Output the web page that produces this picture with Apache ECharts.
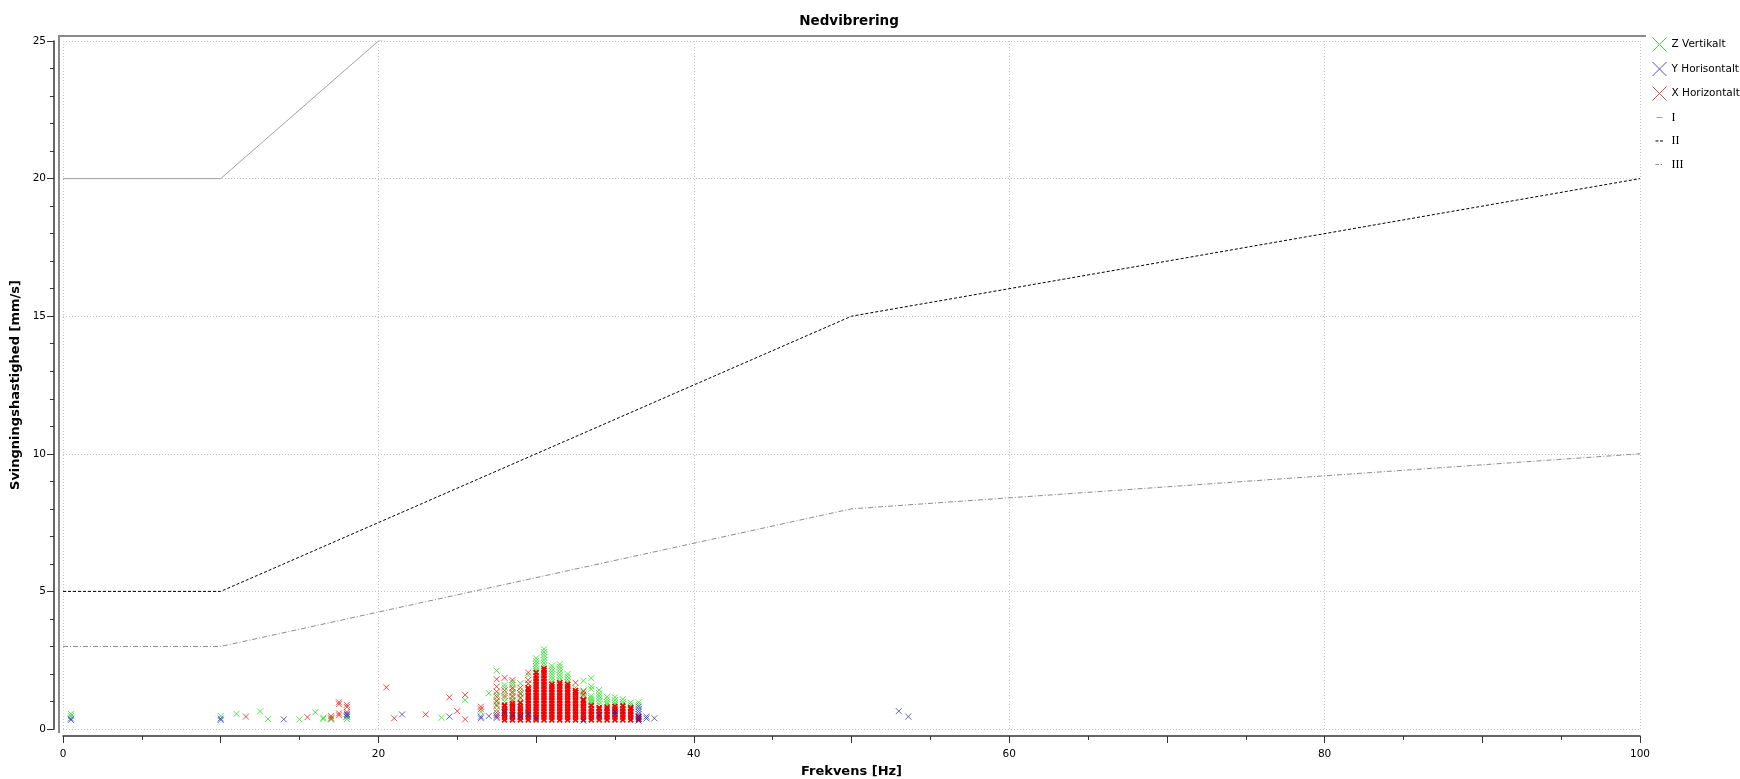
<!DOCTYPE html>
<html>
<head>
<meta charset="utf-8">
<title>Nedvibrering</title>
<script src="https://cdn.jsdelivr.net/npm/echarts@6/dist/echarts.min.js"></script>
<style>
  html, body { margin: 0; padding: 0; background: #fff; }
  #chart { width: 1740px; height: 779px; }
</style>
</head>
<body>
<div id="chart"></div>
<script>
// ---- Measurements: [frequency Hz, velocity mm/s] ----
const zVertikalt = [
  [0.5, 0.55], [0.5, 0.47], [10.0, 0.47], [11.0, 0.55], [12.5, 0.64], [13.0, 0.36],
  [15.0, 0.35], [16.0, 0.61], [16.5, 0.41], [16.5, 0.37], [17.0, 0.34], [17.0, 0.41],
  [18.0, 0.36], [18.0, 0.45], [24.0, 0.41], [25.5, 1.05], [26.5, 0.63], [27.0, 1.30],
  [27.5, 2.12], [27.5, 1.25], [27.5, 1.05], [27.5, 0.90], [27.5, 0.70],
  [28.0, 1.60], [28.0, 1.50], [28.0, 1.30], [28.0, 1.12], [28.0, 1.00],
  [28.5, 1.70], [28.5, 1.60], [28.5, 1.45], [28.5, 1.30], [28.5, 1.15], [28.5, 1.00],
  [29.0, 1.66], [29.0, 1.40], [29.0, 1.25], [29.0, 1.10],
  [29.5, 1.95], [29.5, 1.65],
  [30.0, 2.57], [30.0, 2.47], [30.0, 2.37], [30.0, 2.27], [30.0, 2.17], [30.0, 2.10],
  [30.5, 2.90], [30.5, 2.80], [30.5, 2.70], [30.5, 2.60], [30.5, 2.50], [30.5, 2.40], [30.5, 2.30],
  [31.0, 2.30], [31.0, 2.20], [31.0, 2.10], [31.0, 2.00], [31.0, 1.90], [31.0, 1.80], [31.0, 1.70],
  [31.5, 2.36], [31.5, 2.26], [31.5, 2.16], [31.5, 2.06], [31.5, 1.96], [31.5, 1.86], [31.5, 1.76],
  [32.0, 2.00], [32.0, 1.90], [32.0, 1.80], [32.0, 1.70],
  [32.5, 1.50],
  [33.0, 1.75], [33.0, 1.40], [33.0, 1.30], [33.0, 1.20],
  [33.5, 1.85], [33.5, 1.55], [33.5, 1.45], [33.5, 1.20], [33.5, 1.12], [33.5, 1.05], [33.5, 0.98], [33.5, 0.92],
  [34.0, 1.42], [34.0, 1.30], [34.0, 1.20], [34.0, 1.10], [34.0, 1.00], [34.0, 0.90],
  [34.5, 1.17], [34.5, 1.07], [34.5, 0.97], [34.5, 0.90],
  [35.0, 1.15], [35.0, 1.05], [35.0, 0.95], [35.0, 0.88],
  [35.5, 1.08], [35.5, 0.98], [35.5, 0.90],
  [36.0, 0.96], [36.0, 0.88],
  [36.5, 0.97], [36.5, 0.88]
];

const yHorisontalt = [
  [0.5, 0.38], [0.5, 0.33], [10.0, 0.33], [10.0, 0.38], [14.0, 0.35],
  [18.0, 0.55], [18.0, 0.51], [18.0, 0.45], [21.5, 0.53], [24.5, 0.45],
  [26.5, 0.45], [26.5, 0.39], [27.0, 0.47], [27.5, 0.51], [27.5, 0.40],
  [28.0, 0.60], [28.5, 0.50], [29.0, 0.45], [29.5, 0.55], [30.0, 0.40],
  [33.0, 0.30], [34.0, 0.50], [35.0, 0.63], [35.0, 0.55],
  [36.5, 0.81], [36.5, 0.72], [36.5, 0.63], [36.5, 0.54], [36.5, 0.45], [36.5, 0.36], [36.5, 0.30],
  [37.0, 0.45], [37.0, 0.38], [37.5, 0.39], [53.0, 0.65], [53.6, 0.45]
];

// Isolated X readings
const xHorizontalPoints = [
  [11.6, 0.45], [15.5, 0.43], [17.0, 0.47], [17.0, 0.38], [17.5, 0.97], [17.5, 0.90],
  [17.5, 0.57], [17.5, 0.50], [18.0, 0.88], [18.0, 0.80], [18.0, 0.62], [20.5, 1.51],
  [21.0, 0.39], [23.0, 0.53], [24.5, 1.15], [25.0, 0.65], [25.5, 1.24], [25.5, 0.35],
  [26.5, 0.81], [26.5, 0.72],
  [27.5, 1.81], [27.5, 1.54], [27.5, 1.36], [27.5, 1.17], [27.5, 1.00], [27.5, 0.84], [27.5, 0.60], [27.5, 0.45],
  [28.0, 1.86], [28.0, 1.40], [28.0, 1.20],
  [28.5, 1.78], [28.5, 1.50], [28.5, 1.35], [28.5, 1.20], [28.5, 1.05],
  [29.0, 1.50], [29.0, 1.30], [29.0, 1.15],
  [29.5, 2.05], [29.5, 1.78], [29.5, 1.65],
  [32.5, 1.68], [33.0, 1.36], [33.0, 1.25]
];

// Dense X readings, one list per frequency bin
const xColumnHz = [28.0, 28.5, 29.0, 29.5, 30.0, 30.5, 31.0, 31.5, 32.0, 32.5, 33.0, 33.5, 34.0, 34.5, 35.0, 35.5, 36.0, 36.5];
const xColumnValues = [
  [0.33, 0.43, 0.53, 0.63, 0.73, 0.83, 0.87],
  [0.33, 0.43, 0.53, 0.63, 0.73, 0.83, 0.92],
  [0.33, 0.43, 0.53, 0.63, 0.73, 0.83, 0.95],
  [0.33, 0.43, 0.53, 0.63, 0.73, 0.83, 0.93, 1.03, 1.13, 1.23, 1.33, 1.43, 1.50],
  [0.33, 0.43, 0.53, 0.63, 0.73, 0.83, 0.93, 1.03, 1.13, 1.23, 1.33, 1.43, 1.53, 1.63, 1.73, 1.83, 1.93, 2.05],
  [0.33, 0.43, 0.53, 0.63, 0.73, 0.83, 0.93, 1.03, 1.13, 1.23, 1.33, 1.43, 1.53, 1.63, 1.73, 1.83, 1.93, 2.03, 2.13, 2.20],
  [0.33, 0.43, 0.53, 0.63, 0.73, 0.83, 0.93, 1.03, 1.13, 1.23, 1.33, 1.43, 1.53, 1.62],
  [0.33, 0.43, 0.53, 0.63, 0.73, 0.83, 0.93, 1.03, 1.13, 1.23, 1.33, 1.43, 1.53, 1.63, 1.68],
  [0.33, 0.43, 0.53, 0.63, 0.73, 0.83, 0.93, 1.03, 1.13, 1.23, 1.33, 1.43, 1.53, 1.62],
  [0.33, 0.43, 0.53, 0.63, 0.73, 0.83, 0.93, 1.03, 1.13, 1.23, 1.33, 1.40],
  [0.33, 0.43, 0.53, 0.63, 0.73, 0.83, 0.93, 1.03, 1.07],
  [0.33, 0.43, 0.53, 0.63, 0.73, 0.85],
  [0.33, 0.43, 0.53, 0.63, 0.73, 0.78],
  [0.33, 0.43, 0.53, 0.63, 0.73, 0.80],
  [0.33, 0.43, 0.53, 0.63, 0.73, 0.82],
  [0.33, 0.43, 0.53, 0.63, 0.73, 0.84],
  [0.33, 0.43, 0.53, 0.63, 0.73, 0.78],
  [0.33, 0.40, 0.45]
];

// ---- Limit curves ----
const limitI   = [[0, 20], [10, 20], [20, 25], [50, 30], [100, 40]];
const limitII  = [[0, 5], [10, 5], [50, 15], [100, 20]];
const limitIII = [[0, 3], [10, 3], [50, 8], [100, 10]];

// ---- Axis settings ----
const xMin = 0, xMax = 100;
const yMin = 0, yMax = 25;

const xColumns = [];
xColumnHz.forEach((hz, i) => xColumnValues[i].forEach(v => xColumns.push([hz, v])));

const FONT = "'DejaVu Sans', 'Liberation Sans', sans-serif";
const SERIF = "'Liberation Serif', 'DejaVu Serif', serif";
const CROSS = 'path://M0,0L10,10M10,0L0,10';
const ICON_I   = 'path://M0,0h0.01v0.01h-0.01zM14,14h0.01v0.01h-0.01zM4,6.5h6v1h-6z';
const ICON_II  = 'path://M0,0h0.01v0.01h-0.01zM14,14h0.01v0.01h-0.01zM3,6.5h3v1h-3zM7.5,6.5h3v1h-3z';
const ICON_III = 'path://M0,0h0.01v0.01h-0.01zM14,14h0.01v0.01h-0.01zM3,6.5h3.5v1h-3.5zM8,6.5h1.5v1h-1.5z';

const C_Z = '#18dc18', C_Y = '#2424b8', C_X = '#f00000';

const chart = echarts.init(document.getElementById('chart'), null, { renderer: 'canvas' });

const crossSeries = (name, data, color, opacity, width, size, z) => ({
  name, type: 'scatter', data, z,
  symbol: CROSS, symbolSize: size,
  itemStyle: { color: 'rgba(0,0,0,0)', borderColor: color, borderWidth: width, opacity },
  emphasis: { disabled: true },
  animation: false
});

chart.setOption({
  backgroundColor: '#fff',
  animation: false,
  textStyle: { fontFamily: FONT },
  title: {
    text: 'Nedvibrering',
    left: 844, top: 9, textAlign: 'center',
    textStyle: { fontFamily: FONT, fontSize: 13.5, fontWeight: 'bold', color: '#000' }
  },
  grid: { left: 63, right: 100, top: 41, bottom: 50, containLabel: false, outerBoundsMode: 'none' },
  legend: {
    orient: 'vertical', left: 1647, top: 32,
    itemWidth: 14, itemHeight: 14, itemGap: 9.5,
    textStyle: { fontFamily: FONT, fontSize: 10.5, color: '#000' },
    data: [
      { name: 'Z Vertikalt', itemStyle: { color: 'rgba(0,0,0,0)', borderColor: '#44d844', borderWidth: 1, opacity: 1 } },
      { name: 'Y Horisontalt', itemStyle: { color: 'rgba(0,0,0,0)', borderColor: '#5050c0', borderWidth: 1, opacity: 1 } },
      { name: 'X Horizontalt', itemStyle: { color: 'rgba(0,0,0,0)', borderColor: '#d05050', borderWidth: 1, opacity: 1 } },
      { name: 'I', icon: ICON_I, itemStyle: { color: '#a0a0a0', borderWidth: 0 },
        textStyle: { fontFamily: SERIF, fontSize: 12 } },
      { name: 'II', icon: ICON_II, itemStyle: { color: '#000', borderWidth: 0 },
        textStyle: { fontFamily: SERIF, fontSize: 12 } },
      { name: 'III', icon: ICON_III, itemStyle: { color: '#909090', borderWidth: 0 },
        textStyle: { fontFamily: SERIF, fontSize: 12 } }
    ]
  },
  xAxis: [
    {
      type: 'value', min: xMin, max: xMax, interval: 10, position: 'bottom', offset: 7,
      name: 'Frekvens [Hz]', nameLocation: 'middle', nameGap: 26,
      nameTextStyle: { fontFamily: FONT, fontSize: 13, fontWeight: 'bold', color: '#000' },
      axisLine: { show: true, onZero: false, lineStyle: { color: '#333', width: 1.5 } },
      axisTick: { show: true, length: 7, lineStyle: { color: '#333', width: 1 } },
      minorTick: { show: true, splitNumber: 2, length: 4, lineStyle: { color: '#333', width: 1 } },
      axisLabel: { fontFamily: FONT, fontSize: 10.5, color: '#000', margin: 13,
        formatter: v => (v % 20 === 0 ? String(v) : '') },
      splitLine: { show: false }
    },
    {
      type: 'value', min: xMin, max: xMax, interval: 20, position: 'top',
      axisLine: { show: false }, axisTick: { show: false }, axisLabel: { show: false },
      splitLine: { show: true, lineStyle: { color: '#c4c4c4', type: [1, 2], width: 1 } }
    }
  ],
  yAxis: {
    type: 'value', min: yMin, max: yMax, interval: 5, position: 'left', offset: 9,
    name: 'Svingningshastighed [mm/s]', nameLocation: 'middle', nameGap: 29,
    nameTextStyle: { fontFamily: FONT, fontSize: 13, fontWeight: 'bold', color: '#000' },
    axisLine: { show: true, onZero: false, lineStyle: { color: '#333', width: 1.5 } },
    axisTick: { show: true, length: 7, lineStyle: { color: '#333', width: 1 } },
    minorTick: { show: true, splitNumber: 5, length: 4, lineStyle: { color: '#333', width: 1 } },
    axisLabel: { fontFamily: FONT, fontSize: 10.5, color: '#000', margin: 8 },
    splitLine: { show: true, lineStyle: { color: '#c4c4c4', type: [1, 2], width: 1 } }
  },
  graphic: [
    {
      type: 'polyline', silent: true, z: 10,
      shape: { points: [[59, 733], [59, 36], [1646, 36]] },
      style: { stroke: '#8a8a8a', lineWidth: 2, fill: null }
    }
  ],
  series: [
    crossSeries('Z Vertikalt', zVertikalt, C_Z, 0.75, 1, 6, 2),
    crossSeries('X Horizontalt', xHorizontalPoints, C_X, 0.7, 1, 6, 3),
    crossSeries('X Horizontalt', xColumns, C_X, 1, 1.6, 5, 3),
    crossSeries('Y Horisontalt', yHorisontalt, C_Y, 0.7, 1, 6, 4),
    {
      name: 'I', type: 'line', data: limitI, symbol: 'none', clip: true, z: 1,
      lineStyle: { color: '#a0a0a0', width: 1, type: 'solid' },
      itemStyle: { color: '#a0a0a0' }, emphasis: { disabled: true }
    },
    {
      name: 'II', type: 'line', data: limitII, symbol: 'none', clip: true, z: 1,
      lineStyle: { color: '#000', width: 1, type: [3, 2] },
      itemStyle: { color: '#000' }, emphasis: { disabled: true }
    },
    {
      name: 'III', type: 'line', data: limitIII, symbol: 'none', clip: true, z: 1,
      lineStyle: { color: '#8c8c8c', width: 1, type: [5, 2, 1, 2] },
      itemStyle: { color: '#8c8c8c' }, emphasis: { disabled: true }
    }
  ]
});
</script>
</body>
</html>
